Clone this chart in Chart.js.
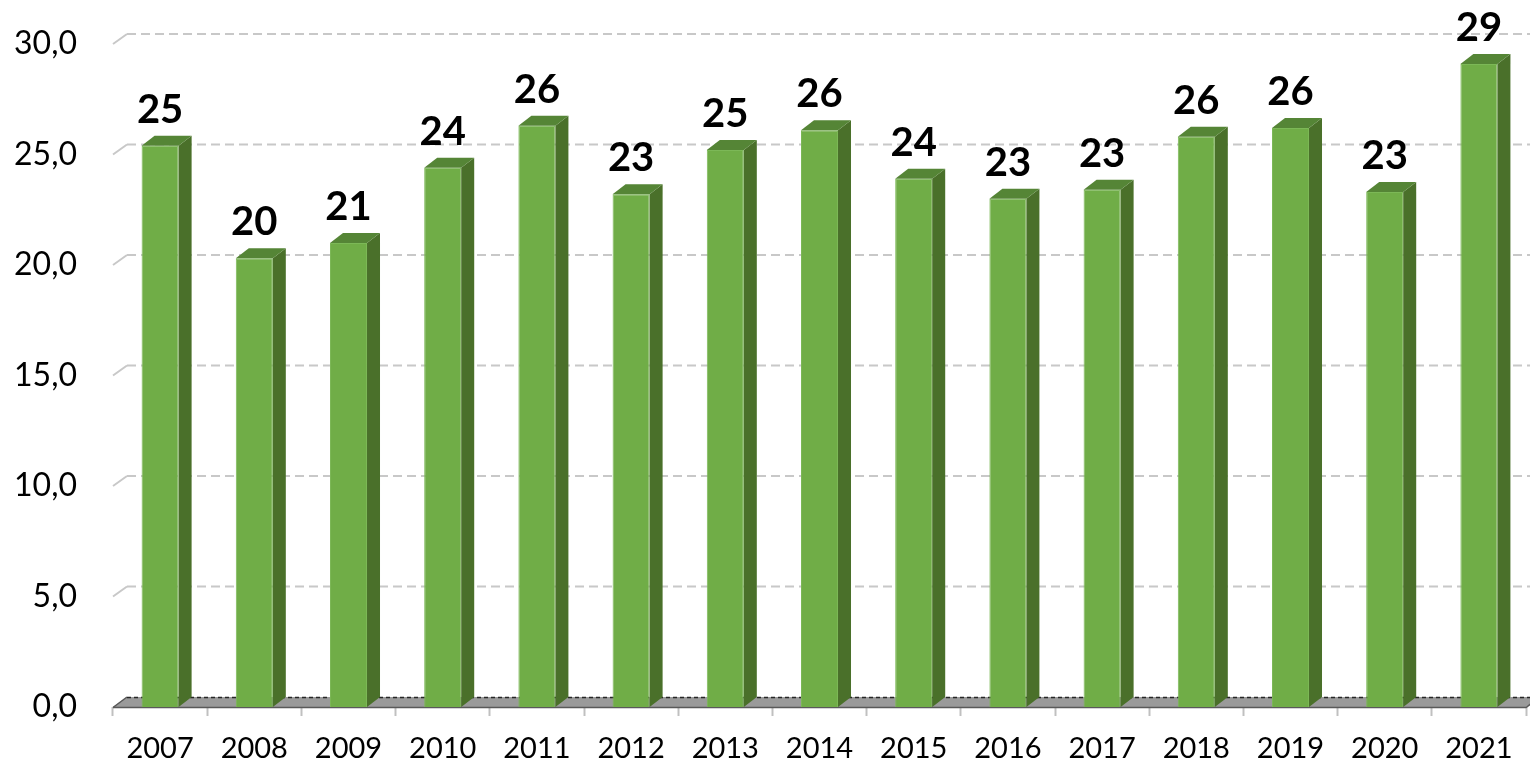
<!DOCTYPE html>
<html>
<head>
<meta charset="utf-8">
<script src="https://cdn.jsdelivr.net/npm/chart.js@4/dist/chart.umd.min.js"></script>
<style>
  html, body { margin: 0; padding: 0; background: #ffffff; }
  #wrap { width: 1530px; height: 765px; }
</style>
</head>
<body>
<div id="wrap"><canvas id="c" width="1530" height="765"></canvas></div>
<script>
const categories = ['2007','2008','2009','2010','2011','2012','2013','2014','2015','2016','2017','2018','2019','2020','2021'];
const values = [25.4, 20.3, 21.0, 24.4, 26.3, 23.2, 25.2, 26.1, 23.9, 23.0, 23.4, 25.8, 26.2, 23.3, 29.1];
const yTickValues = [0, 5, 10, 15, 20, 25, 30];

const FONT = 'Lato, "Open Sans", sans-serif';
const BAR_DEPTH = { dx: 13, dy: -10 };
const WALL_DEPTH = { dx: 14, dy: -10 };

const threeD = {
  id: 'threeD',
  beforeDatasetsDraw(chart) {
    const { ctx, chartArea: a, scales: { y } } = chart;
    ctx.save();
    // gridlines on back wall
    y.ticks.forEach(t => {
      const py = y.getPixelForValue(t.value);
      if (t.value === 0) return;
      ctx.strokeStyle = '#c8c8c8';
      ctx.lineWidth = 2;
      ctx.setLineDash([]);
      ctx.beginPath();
      ctx.moveTo(a.left, py);
      ctx.lineTo(a.left + WALL_DEPTH.dx, py + WALL_DEPTH.dy);
      ctx.stroke();
      ctx.setLineDash([9, 5]);
      ctx.beginPath();
      ctx.moveTo(a.left + WALL_DEPTH.dx, py + WALL_DEPTH.dy);
      ctx.lineTo(chart.width, py + WALL_DEPTH.dy);
      ctx.stroke();
    });
    // floor
    const b = y.getPixelForValue(0);
    ctx.setLineDash([]);
    ctx.fillStyle = '#9a9a9a';
    ctx.beginPath();
    ctx.moveTo(a.left, b);
    ctx.lineTo(a.right, b);
    ctx.lineTo(a.right + WALL_DEPTH.dx, b + WALL_DEPTH.dy);
    ctx.lineTo(a.left + WALL_DEPTH.dx, b + WALL_DEPTH.dy);
    ctx.closePath();
    ctx.fill();
    ctx.strokeStyle = '#595959';
    ctx.lineWidth = 1.5;
    ctx.beginPath();
    ctx.moveTo(a.left, b + 0.5);
    ctx.lineTo(a.right, b + 0.5);
    ctx.lineTo(a.right + WALL_DEPTH.dx, b + WALL_DEPTH.dy);
    ctx.stroke();
    ctx.beginPath();
    ctx.moveTo(a.left, b + 0.5);
    ctx.lineTo(a.left + WALL_DEPTH.dx, b + WALL_DEPTH.dy);
    ctx.stroke();
    ctx.setLineDash([4, 3]);
    ctx.strokeStyle = '#262626';
    ctx.lineWidth = 1.5;
    ctx.beginPath();
    ctx.moveTo(a.left + WALL_DEPTH.dx, b + WALL_DEPTH.dy + 0.5);
    ctx.lineTo(chart.width, b + WALL_DEPTH.dy + 0.5);
    ctx.stroke();
    ctx.restore();
  },
  afterDatasetsDraw(chart) {
    const { ctx } = chart;
    const meta = chart.getDatasetMeta(0);
    ctx.save();
    meta.data.forEach((bar, i) => {
      const p = bar.getProps(['x', 'y', 'base', 'width'], true);
      const l = p.x - p.width / 2, r = p.x + p.width / 2;
      const top = p.y, bot = p.base;
      const dx = BAR_DEPTH.dx, dy = BAR_DEPTH.dy;
      // side
      ctx.fillStyle = '#4a702a';
      ctx.beginPath();
      ctx.moveTo(r, top);
      ctx.lineTo(r + dx, top + dy);
      ctx.lineTo(r + dx, bot + dy);
      ctx.lineTo(r, bot);
      ctx.closePath();
      ctx.fill();
      // top
      ctx.fillStyle = '#558536';
      ctx.beginPath();
      ctx.moveTo(l, top);
      ctx.lineTo(l + dx, top + dy);
      ctx.lineTo(r + dx, top + dy);
      ctx.lineTo(r, top);
      ctx.closePath();
      ctx.fill();
      // label
      ctx.fillStyle = '#000000';
      ctx.font = 'bold 40px ' + FONT;
      ctx.textAlign = 'center';
      ctx.textBaseline = 'alphabetic';
      ctx.fillText(String(Math.round(values[i])), p.x, top - 23);
    });
    ctx.restore();
  }
};

new Chart(document.getElementById('c'), {
  type: 'bar',
  data: {
    labels: categories,
    datasets: [{
      data: values,
      backgroundColor: '#70ad47',
      borderColor: '#7cb857',
      borderWidth: 1,
      barPercentage: 0.393,
      categoryPercentage: 1.0
    }]
  },
  options: {
    responsive: false,
    animation: false,
    layout: { padding: { top: 44, right: 4, left: 0, bottom: 0 } },
    plugins: { legend: { display: false }, tooltip: { enabled: false } },
    scales: {
      x: {
        afterFit(s) { s.height = 58; s.paddingLeft = 0; s.paddingRight = 0; },
        grid: { display: true, drawOnChartArea: false, drawTicks: true, tickLength: 9, tickColor: '#c0c0c0', tickWidth: 2, offset: true },
        border: { display: false },
        ticks: { color: '#000000', font: { family: FONT, size: 29 }, padding: 15, maxRotation: 0, autoSkip: false }
      },
      y: {
        min: 0,
        max: 30,
        afterFit(s) { s.width = 113; s.paddingTop = 0; s.paddingBottom = 0; },
        afterBuildTicks(s) { s.ticks = yTickValues.map(v => ({ value: v })); },
        grid: { display: false, drawTicks: false },
        border: { display: false },
        ticks: {
          color: '#000000',
          font: { family: FONT, size: 32 },
          padding: 36,
          callback: v => v.toFixed(1).replace('.', ',')
        }
      }
    }
  },
  plugins: [threeD]
});
</script>
</body>
</html>
